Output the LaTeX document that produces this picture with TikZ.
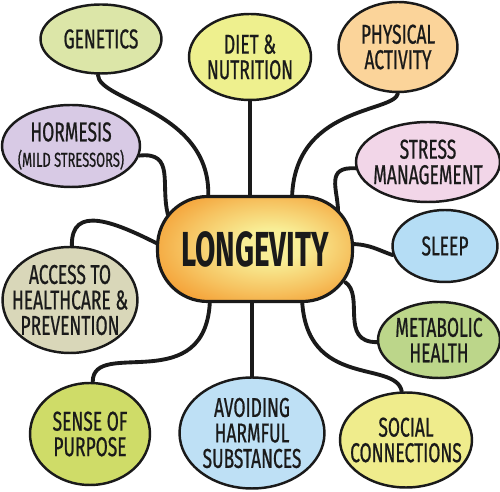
\documentclass[tikz,border=0pt]{standalone}
\usepackage{fontspec}
\newfontfamily\hand[FakeStretch=0.64,FakeBold=0.7]{Fira Sans}
\newfontfamily\handbig[FakeStretch=0.6]{Fira Sans}
\usetikzlibrary{shapes.geometric,backgrounds,calc}
\definecolor{cGenetics}{HTML}{DCE6A8}
\definecolor{cDiet}{HTML}{EEF08E}
\definecolor{cPhysical}{HTML}{FBD49A}
\definecolor{cHormesis}{HTML}{D8CAE5}
\definecolor{cStress}{HTML}{F2D6E8}
\definecolor{cSleep}{HTML}{B5DDF5}
\definecolor{cAccess}{HTML}{D9D7B9}
\definecolor{cMetabolic}{HTML}{BCD68A}
\definecolor{cPurpose}{HTML}{CFDC68}
\definecolor{cAvoid}{HTML}{BEE0F5}
\definecolor{cSocial}{HTML}{EFEC8C}
\definecolor{cCoreIn}{HTML}{F8EE96}
\definecolor{cCoreOut}{HTML}{F49A2E}
\definecolor{ink}{HTML}{1A1A1A}
\pgfdeclareradialshading{coreglow}{\pgfpoint{5bp}{2bp}}{color(0bp)=(cCoreIn); color(8bp)=(cCoreIn); color(21bp)=(cCoreIn!50!cCoreOut); color(33bp)=(cCoreOut); color(60bp)=(cCoreOut)}

\begin{document}
\begin{tikzpicture}[x=0.02cm,y=-0.02cm,
	bubble/.style={draw=ink, ellipse, line width=1.4pt, align=center, inner sep=-20pt, text=ink, font=\hand\fontsize{15.5}{14.5}\selectfont},
	link/.style={draw=ink, line width=2.2pt, line cap=round}]
	\useasboundingbox (0,0) rectangle (500,492);

	% centre
	\node [draw=ink, line width=1.8pt, rounded corners=1cm, minimum width=3.9cm, minimum height=2.1cm, shading=coreglow, text=ink, font=\handbig\bfseries\fontsize{28}{28}\selectfont] (long) at (255,249) {LONGEVITY};

	% topics
	\node [bubble, fill=cGenetics, minimum width=2.42cm, minimum height=1.38cm] (genetics) at (101,39) {GENETICS};
	\node [bubble, fill=cDiet, minimum width=2.44cm, minimum height=1.72cm] (diet) at (250,57) {DIET \&\\NUTRITION};
	\node [bubble, fill=cPhysical, minimum width=2.38cm, minimum height=1.8cm] (physical) at (398,47) {PHYSICAL\\ACTIVITY};
	\node [bubble, fill=cHormesis, minimum width=2.76cm, minimum height=1.64cm] (hormesis) at (71,146) {HORMESIS\\{\fontsize{11.5}{12}\selectfont (MILD STRESSORS)}};
	\node [bubble, fill=cStress, minimum width=2.88cm, minimum height=1.6cm] (stress) at (428,162) {STRESS\\MANAGEMENT};
	\node [bubble, fill=cSleep, minimum width=2.1cm, minimum height=1.44cm] (sleep) at (445,246) {SLEEP};
	\node [bubble, fill=cAccess, minimum width=2.7cm, minimum height=2.12cm] (access) at (70,300) {ACCESS TO\\HEALTHCARE \&\\PREVENTION};
	\node [bubble, fill=cMetabolic, minimum width=2.44cm, minimum height=1.52cm] (metabolic) at (439,340) {METABOLIC\\HEALTH};
	\node [bubble, fill=cPurpose, minimum width=2.4cm, minimum height=2.04cm] (purpose) at (90,434) {SENSE OF\\PURPOSE};
	\node [bubble, fill=cAvoid, minimum width=2.9cm, minimum height=2.22cm] (avoid) at (252,433) {AVOIDING\\HARMFUL\\SUBSTANCES};
	\node [bubble, fill=cSocial, minimum width=2.64cm, minimum height=1.9cm] (social) at (406,440) {SOCIAL\\CONNECTIONS};

	% links
	\begin{scope}[on background layer]
	\draw [link] (genetics.265) .. controls +(0,27) and +(7,-91) .. ($(long.center)+(-47,-48)$);
	\draw [link] (diet.south) -- (diet.south |- long.center);
	\draw [link] (physical.south) .. controls +(-3,20) and +(0,-96) .. ($(long.center)+(37,-48)$);
	\draw [link] (hormesis.-8) .. controls +(36,-4) and +(-8,-30) .. ($(long.center)+(-87,-34)$);
	\draw [link] (access.88) .. controls +(-1,-42) and +(-45,-23) .. ($(long.center)+(-95,-4)$);
	\draw [link] (stress.185) .. controls +(-31,-2) and +(0,-21) .. ($(long.center)+(83,-38)$);
	\draw [link] (sleep.190) .. controls +(-15,-5) and +(20,0) .. ($(long.center)+(95,-5)$);
	\draw [link] ($(long.center)+(90,33)$) .. controls +(20,13) and +(-38,0) .. (metabolic.182);
	\draw [link] ($(long.center)+(47,49)$) .. controls +(3,92) and +(-6,-32) .. (social.95);
	\draw [link] (avoid.north) -- (avoid.north |- long.center);
	\draw [link] ($(long.center)+(-45,49)$) .. controls +(-2,102) and +(0,-45) .. (purpose.87);
	\end{scope}
\end{tikzpicture}
\end{document}
